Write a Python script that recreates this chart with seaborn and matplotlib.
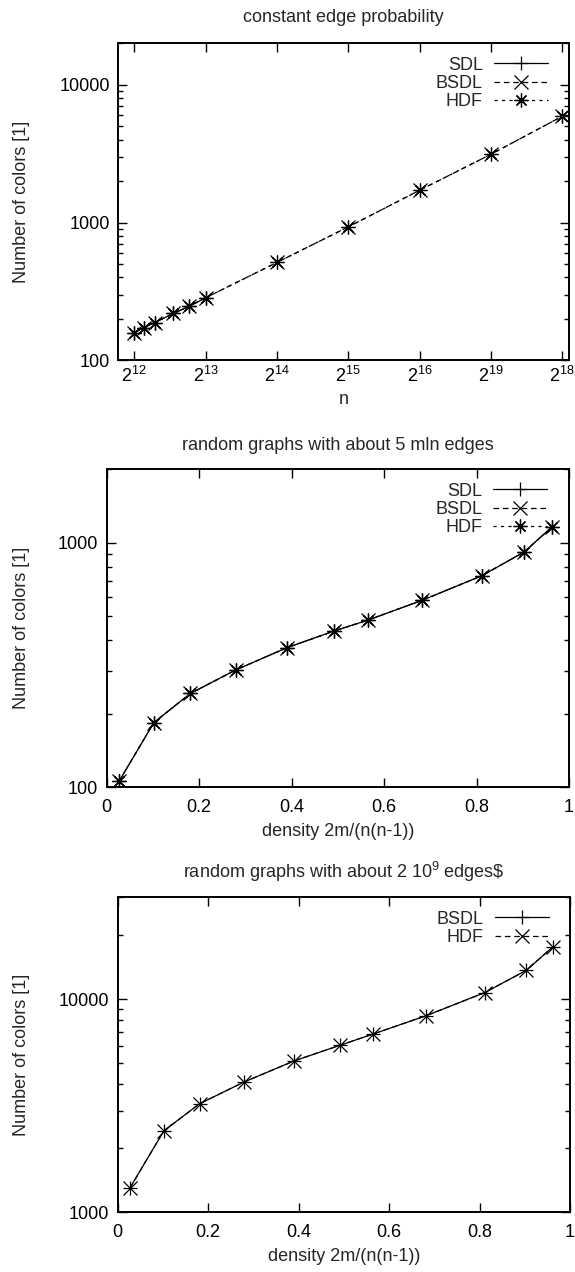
import numpy as np
import pandas as pd
import matplotlib
matplotlib.use("Agg")
import matplotlib.pyplot as plt
import seaborn as sns
from matplotlib.ticker import (FixedLocator, FixedFormatter, LogLocator,
                               NullFormatter, NullLocator, FuncFormatter)

# --- constant edge probability: graph size n vs. number of colours ---
n_vertices = [4096, 4500, 5000, 6000, 7000, 8192, 16384, 32768, 65536, 131072, 262144]
sdl_const = [158, 173, 188, 219, 247, 284]
bsdl_const = [158, 173, 188, 219, 247, 284, 513, 929, 1714, 3127, 5905]
hdf_const = [158, 173, 188, 219, 247, 284, 513, 929, 1714, 3127, 5905]
n_tick_exponents = [12, 13, 14, 15, 16, 17, 18]
n_tick_labels = ["$2^{12}$", "$2^{13}$", "$2^{14}$", "$2^{15}$", "$2^{16}$", "$2^{19}$", "$2^{18}$"]

# --- random graphs, about 5 mln edges: density vs. number of colours ---
density = [0.027, 0.102, 0.181, 0.279, 0.389, 0.492, 0.565, 0.682, 0.811, 0.903, 0.963]
sdl_5m = [106, 184, 242, 302, 372, 436, 483, 582, 733, 918, 1161]
bsdl_5m = [106, 184, 242, 302, 372, 436, 483, 582, 733, 918, 1161]
hdf_5m = [106, 184, 242, 302, 372, 436, 483, 582, 733, 918, 1161]

# --- random graphs, about 2*10^9 edges ---
bsdl_2g = [1300, 2410, 3229, 4080, 5117, 6075, 6857, 8357, 10710, 13620, 17630]
hdf_2g = [1300, 2410, 3229, 4080, 5117, 6075, 6857, 8357, 10710, 13620, 17630]

density_ticks = [0, 0.2, 0.4, 0.6, 0.8, 1.0]
density_tick_labels = ["0", "0.2", "0.4", "0.6", "0.8", "1"]

sns.set_theme(style="ticks")
plt.rcParams["font.family"] = ["Liberation Sans", "DejaVu Sans"]
plt.rcParams["mathtext.fontset"] = "custom"
plt.rcParams["mathtext.rm"] = "Liberation Sans"
plt.rcParams["mathtext.it"] = "Liberation Sans"
plt.rcParams["mathtext.bf"] = "Liberation Sans"
FS = 13

W, H = 575, 1272
fig = plt.figure(figsize=(W / 100, H / 100), dpi=100)
fig.patch.set_facecolor("white")

panels = []


def make_axes(left, right, top, bottom):
    ax = fig.add_axes([left / W, 1 - bottom / H, (right - left) / W, (bottom - top) / H])
    panels.append((ax, left, right, top, bottom))
    return ax


ax1 = make_axes(118, 569, 43.3, 360.3)
ax2 = make_axes(106.7, 569, 469.3, 787.3)
ax3 = make_axes(117.7, 570, 897.3, 1212.3)

LW = 0.9
MS = 10
styles = {
    "solid": dict(linestyle="-"),
    "dash": dict(linestyle=(0, (4.5, 3))),
    "dot": dict(linestyle=(0, (2.5, 3.5))),
}
asterisk = (8, 2, 0)


def series(ax, x, y, label, marker, style):
    df = pd.DataFrame({"x": x[:len(y)], "y": y})
    sns.lineplot(data=df, x="x", y="y", ax=ax, color="black", lw=LW,
                 marker=marker, ms=MS, mec="black", mew=LW, label=label,
                 estimator=None, sort=False, **styles[style])


series(ax1, n_vertices, sdl_const, "SDL", "+", "solid")
series(ax1, n_vertices, bsdl_const, "BSDL", "x", "dash")
series(ax1, n_vertices, hdf_const, "HDF", asterisk, "dot")

series(ax2, density, sdl_5m, "SDL", "+", "solid")
series(ax2, density, bsdl_5m, "BSDL", "x", "dash")
series(ax2, density, hdf_5m, "HDF", asterisk, "dot")

series(ax3, density, bsdl_2g, "BSDL", "+", "solid")
series(ax3, density, hdf_2g, "HDF", "x", "dash")

int_fmt = FuncFormatter(lambda v, p: f"{v:g}")

for ax, left, right, top, bottom in panels:
    ax.set_yscale("log")
    ax.yaxis.set_major_locator(LogLocator(base=10))
    ax.yaxis.set_minor_locator(LogLocator(base=10, subs=np.arange(2, 10)))
    ax.yaxis.set_major_formatter(int_fmt)
    ax.yaxis.set_minor_formatter(NullFormatter())
    for s in ax.spines.values():
        s.set_visible(True)
        s.set_linewidth(1.4)
        s.set_color("black")
    ax.tick_params(which="both", direction="in", top=True, right=True,
                   colors="black", labelsize=FS, width=1.0)
    ax.tick_params(which="major", length=6.5)
    ax.tick_params(axis="y", which="major", pad=6)
    ax.tick_params(axis="x", which="major", pad=8.5)
    ax.tick_params(which="minor", length=3.5)
    ax.set_facecolor("white")
    ax.set_ylabel("Number of colors [1]", fontsize=FS)
    ax.yaxis.set_label_coords((30 - left) / (right - left), 0.5)
    ax.legend(loc="upper right", bbox_to_anchor=(0.953, 1 - 13.5 / (bottom - top)),
              frameon=False, markerfirst=False, fontsize=FS, handlelength=3.0,
              handletextpad=0.6, labelspacing=0.06, borderpad=0, borderaxespad=0,
              numpoints=1)

# top panel: log2 axis over n
ax1.set_xscale("log", base=2)
ax1.set_xlim(3500, 280000)
ax1.set_ylim(100, 20000)
ax1.xaxis.set_major_locator(FixedLocator([2.0 ** e for e in n_tick_exponents]))
ax1.xaxis.set_major_formatter(FixedFormatter(n_tick_labels))
ax1.xaxis.set_minor_locator(NullLocator())
ax1.tick_params(axis="x", which="major", pad=4)
ax1.set_xlabel("n", fontsize=FS)
ax1.xaxis.set_label_coords(0.5, -(391 - 360.3) / (360.3 - 43.3))
ax1.set_title("constant edge probability", fontsize=FS, pad=15)

for ax, ylim, title, bottom, top in ((ax2, (100, 2000), "random graphs with about 5 mln edges", 787.3, 469.3),
                                     (ax3, (1000, 30000), r"random graphs with about 2 10$^{9}$ edges\$", 1212.3, 897.3)):
    ax.set_xlim(0, 1)
    ax.set_ylim(*ylim)
    ax.xaxis.set_major_locator(FixedLocator(density_ticks))
    ax.xaxis.set_major_formatter(FixedFormatter(density_tick_labels))
    ax.xaxis.set_minor_locator(NullLocator())
    ax.set_xlabel("density 2m/(n(n-1))", fontsize=FS)
    ax.xaxis.set_label_coords(0.5, -36 / (bottom - top))
    ax.set_title(title, fontsize=FS, pad=14)

fig.savefig("out.png", dpi=100, facecolor="white")
